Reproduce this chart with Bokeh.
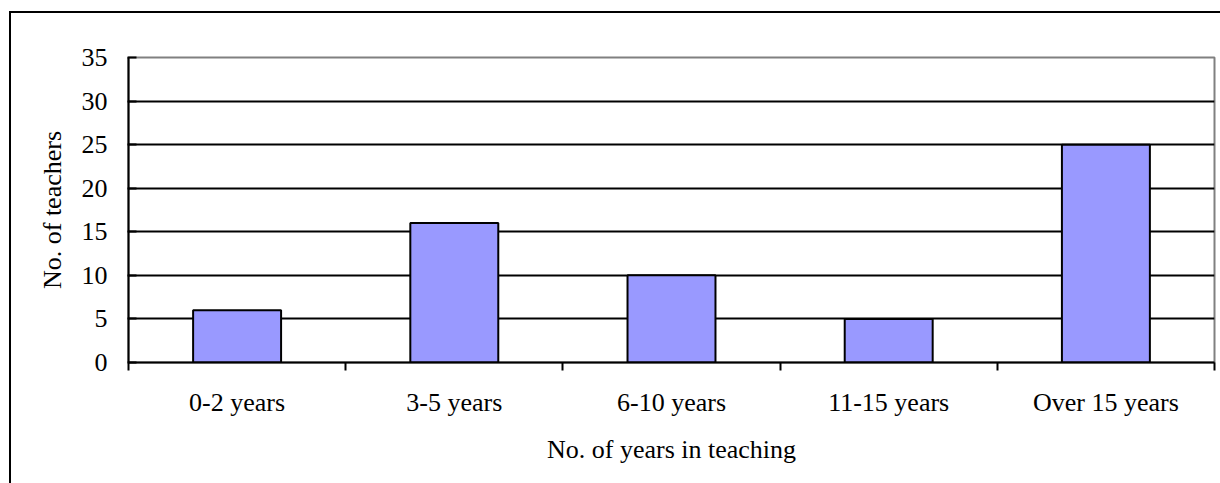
from bokeh.plotting import figure
from bokeh.models import Range1d, FixedTicker, LinearAxis, Grid
from bokeh.embed import file_html
from bokeh.resources import INLINE

categories = ["0-2 years", "3-5 years", "6-10 years", "11-15 years", "Over 15 years"]
teachers = [6, 16, 10, 5, 25]
y_ticks = [0, 5, 10, 15, 20, 25, 30, 35]

FONT = "Liberation Serif"
n = len(categories)
centers = [i + 0.5 for i in range(n)]
bounds = list(range(n + 1))

p = figure(width=1220, height=483, output_backend="svg", toolbar_location=None,
           x_range=Range1d(0, n), y_range=Range1d(y_ticks[0], y_ticks[-1]),
           x_axis_type=None, y_axis_type=None,
           min_border_left=128, min_border_top=57, min_border_right=6, min_border_bottom=121)
p.border_fill_color = None
p.background_fill_color = "white"
p.outline_line_color = "#808080"
p.outline_line_width = 2
p.styles = {
    "background-color": "#fff",
    "background-image": "linear-gradient(#000,#000), linear-gradient(#000,#000)",
    "background-position": "9px 11px, 9px 11px",
    "background-size": "2px 600px, 1400px 2px",
    "background-repeat": "no-repeat, no-repeat",
}

grid = Grid(dimension=1, ticker=FixedTicker(ticks=y_ticks[1:-1]),
            grid_line_color="black", grid_line_width=2)
p.add_layout(grid)

p.vbar(x=centers, top=teachers, width=0.405, bottom=0,
       fill_color="#9999FF", line_color="black", line_width=2)

xaxis = LinearAxis(ticker=FixedTicker(ticks=centers, minor_ticks=bounds),
                   major_label_overrides={c: cat for c, cat in zip(centers, categories)},
                   major_tick_out=0, major_tick_in=0,
                   minor_tick_out=8, minor_tick_in=0,
                   minor_tick_line_color="black", minor_tick_line_width=2,
                   axis_line_color="black", axis_line_width=2,
                   major_label_text_font=FONT, major_label_text_font_size="26px",
                   major_label_text_color="black", major_label_standoff=17,
                   axis_label="No. of years in teaching", axis_label_text_font=FONT,
                   axis_label_text_font_size="26px", axis_label_text_font_style="normal",
                   axis_label_text_color="black", axis_label_standoff=15)
p.add_layout(xaxis, "below")

yaxis = LinearAxis(ticker=FixedTicker(ticks=y_ticks),
                   major_tick_out=1, major_tick_in=8,
                   major_tick_line_color="black", major_tick_line_width=2,
                   minor_tick_out=0, minor_tick_in=0,
                   axis_line_color="black", axis_line_width=2,
                   major_label_text_font=FONT, major_label_text_font_size="26px",
                   major_label_text_color="black", major_label_standoff=20,
                   axis_label="No. of teachers", axis_label_text_font=FONT,
                   axis_label_text_font_size="26px", axis_label_text_font_style="normal",
                   axis_label_text_color="black", axis_label_standoff=12)
p.add_layout(yaxis, "left")

open("out.html", "w").write(file_html(p, INLINE))
